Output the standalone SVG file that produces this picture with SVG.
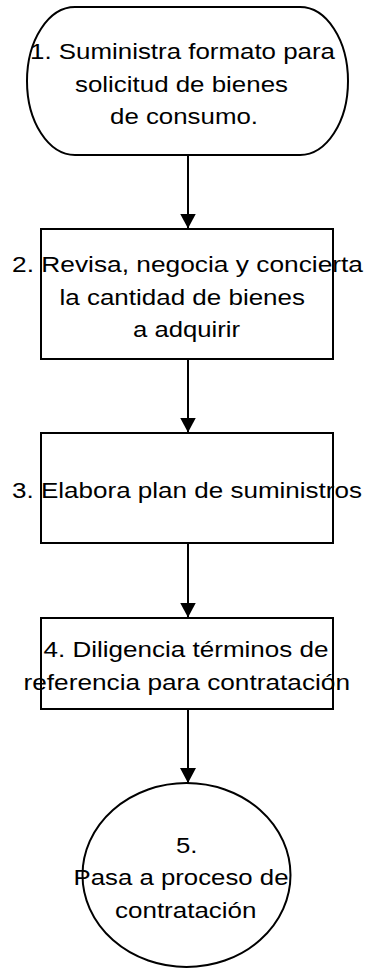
<svg xmlns="http://www.w3.org/2000/svg" width="371" height="968" viewBox="0 0 371 968">
<style>
.shape{fill:#fff;stroke:#000;stroke-width:2}
.lbl{font-family:"Liberation Sans",Arial,sans-serif;font-size:22.5px;fill:#000}
.edge{stroke:#000;stroke-width:2;fill:none}
</style>
<defs>
<marker id="arr" markerUnits="userSpaceOnUse" markerWidth="18" markerHeight="18" refX="15" refY="8" orient="auto">
<path d="M0,0 L15,8 L0,16 Z" fill="#000"/>
</marker>
</defs>
<rect width="371" height="968" fill="#fff"/>
<g id="connectors">
<line class="edge" x1="188" y1="155" x2="188" y2="228.5" marker-end="url(#arr)"/>
<line class="edge" x1="188" y1="360" x2="188" y2="432.5" marker-end="url(#arr)"/>
<line class="edge" x1="188" y1="543" x2="188" y2="617.5" marker-end="url(#arr)"/>
<line class="edge" x1="188" y1="709" x2="188" y2="783" marker-end="url(#arr)"/>
</g>
<g id="node1">
<rect class="shape" x="27" y="7" width="321" height="148" rx="48" ry="74"/>
<text class="lbl" x="30" y="59" textLength="305" lengthAdjust="spacingAndGlyphs">1. Suministra formato para</text>
<text class="lbl" x="75" y="91.5" textLength="213" lengthAdjust="spacingAndGlyphs">solicitud de bienes</text>
<text class="lbl" x="110" y="124" textLength="148" lengthAdjust="spacingAndGlyphs">de consumo.</text>
</g>
<g id="node2">
<rect class="shape" x="41" y="229" width="292" height="130"/>
<text class="lbl" x="12" y="272" textLength="351" lengthAdjust="spacingAndGlyphs">2. Revisa, negocia y concierta</text>
<text class="lbl" x="59.5" y="304.5" textLength="245.5" lengthAdjust="spacingAndGlyphs">la cantidad de bienes</text>
<text class="lbl" x="133" y="337" textLength="107" lengthAdjust="spacingAndGlyphs">a adquirir</text>
</g>
<g id="node3">
<rect class="shape" x="41" y="433" width="292" height="110"/>
<text class="lbl" x="12" y="498" textLength="350" lengthAdjust="spacingAndGlyphs">3. Elabora plan de suministros</text>
</g>
<g id="node4">
<rect class="shape" x="41" y="618" width="292" height="91"/>
<text class="lbl" x="43.5" y="657" textLength="285" lengthAdjust="spacingAndGlyphs">4. Diligencia términos de</text>
<text class="lbl" x="23.5" y="690" textLength="326.5" lengthAdjust="spacingAndGlyphs">referencia para contratación</text>
</g>
<g id="node5">
<ellipse class="shape" cx="186.5" cy="875" rx="104" ry="92"/>
<text class="lbl" x="176" y="853" textLength="21.5" lengthAdjust="spacingAndGlyphs">5.</text>
<text class="lbl" x="73.5" y="885" textLength="215" lengthAdjust="spacingAndGlyphs">Pasa a proceso de</text>
<text class="lbl" x="115" y="917.5" textLength="141.5" lengthAdjust="spacingAndGlyphs">contratación</text>
</g>
</svg>
